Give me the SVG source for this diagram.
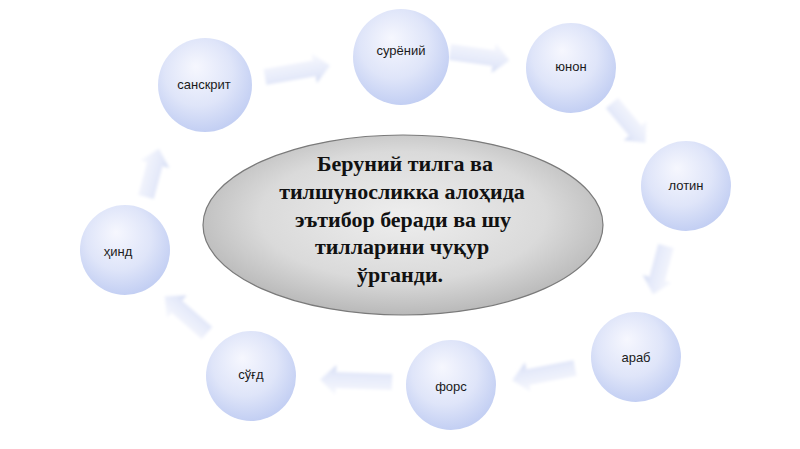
<svg xmlns="http://www.w3.org/2000/svg" width="800" height="449" viewBox="0 0 800 449">
<defs>
<radialGradient id="cg" cx="0.45" cy="0.4" r="0.6" fx="0.4" fy="0.3">
<stop offset="0" stop-color="#f6f7fe"/>
<stop offset="0.6" stop-color="#dfe5f9"/>
<stop offset="1" stop-color="#c3cff3"/>
</radialGradient>
<radialGradient id="eg" cx="0.5" cy="0.45" r="0.55">
<stop offset="0" stop-color="#eeeeee"/>
<stop offset="0.65" stop-color="#dadada"/>
<stop offset="1" stop-color="#b9b9b9"/>
</radialGradient>
<linearGradient id="ag" x1="0" y1="0" x2="0" y2="1">
<stop offset="0" stop-color="#f8f9fe"/>
<stop offset="0.7" stop-color="#e4e9f9"/>
<stop offset="1" stop-color="#d3dbf3"/>
</linearGradient>
<filter id="blur" x="-20%" y="-40%" width="140%" height="180%"><feGaussianBlur stdDeviation="1.5"/></filter>
</defs>
<style>
.node{fill:url(#cg);}
.lbl{font-family:"Liberation Sans","DejaVu Sans",sans-serif;font-size:13px;fill:#1a1a1a;text-anchor:middle;}
.arr{fill:url(#ag);filter:url(#blur);}
.main{font-family:"Liberation Serif","DejaVu Serif",serif;font-size:22px;font-weight:bold;fill:#111;text-anchor:middle;}
</style>
<rect width="800" height="449" fill="#ffffff"/>
<g id="connectors">
<path class="arr" transform="translate(265,77) rotate(-10)" d="M0,-8 H50 V-15 L66,0 L50,15 V8 H0 Z"/>
<path class="arr" transform="translate(450,52) rotate(8)" d="M0,-8 H44 V-15 L60,0 L44,15 V8 H0 Z"/>
<path class="arr" transform="translate(612,103) rotate(50)" d="M0,-8 H36 V-15 L52,0 L36,15 V8 H0 Z"/>
<path class="arr" transform="translate(666,246) rotate(105)" d="M0,-8 H34 V-15 L50,0 L34,15 V8 H0 Z"/>
<path class="arr" transform="translate(575,368) rotate(169)" d="M0,-8 H48 V-15 L64,0 L48,15 V8 H0 Z"/>
<path class="arr" transform="translate(392,382) rotate(182)" d="M0,-8 H56 V-15 L72,0 L56,15 V8 H0 Z"/>
<path class="arr" transform="translate(207,333) rotate(221)" d="M0,-8 H40 V-15 L56,0 L40,15 V8 H0 Z"/>
<path class="arr" transform="translate(146,197) rotate(-75)" d="M0,-8 H34 V-15 L50,0 L34,15 V8 H0 Z"/>
</g>
<g id="center">
<ellipse cx="403" cy="225" rx="200" ry="90" fill="url(#eg)" stroke="#7a7a7a" stroke-width="1.2"/>
<text class="main" x="405" y="171">Беруний тилга ва</text>
<text class="main" x="402" y="199">тилшуносликка алоҳида</text>
<text class="main" x="403" y="227">эътибор беради ва шу</text>
<text class="main" x="402" y="254">тилларини чуқур</text>
<text class="main" x="400" y="282">ўрганди.</text>
</g>
<g id="n-sanskrit"><circle class="node" cx="205" cy="85" r="47"/><text class="lbl" x="204" y="89">санскрит</text></g>
<g id="n-suryoniy"><circle class="node" cx="401" cy="57" r="48"/><text class="lbl" x="401" y="55">сурёний</text></g>
<g id="n-yunon"><circle class="node" cx="571" cy="68" r="45"/><text class="lbl" x="571" y="71">юнон</text></g>
<g id="n-lotin"><circle class="node" cx="686" cy="186" r="45"/><text class="lbl" x="686" y="190">лотин</text></g>
<g id="n-arab"><circle class="node" cx="636" cy="357" r="45"/><text class="lbl" x="636" y="362">араб</text></g>
<g id="n-fors"><circle class="node" cx="451" cy="385" r="45"/><text class="lbl" x="451" y="391">форс</text></g>
<g id="n-sugd"><circle class="node" cx="251" cy="376" r="45"/><text class="lbl" x="251" y="379">сўғд</text></g>
<g id="n-hind"><circle class="node" cx="125" cy="250" r="45"/><text class="lbl" x="118" y="256">ҳинд</text></g>
</svg>
